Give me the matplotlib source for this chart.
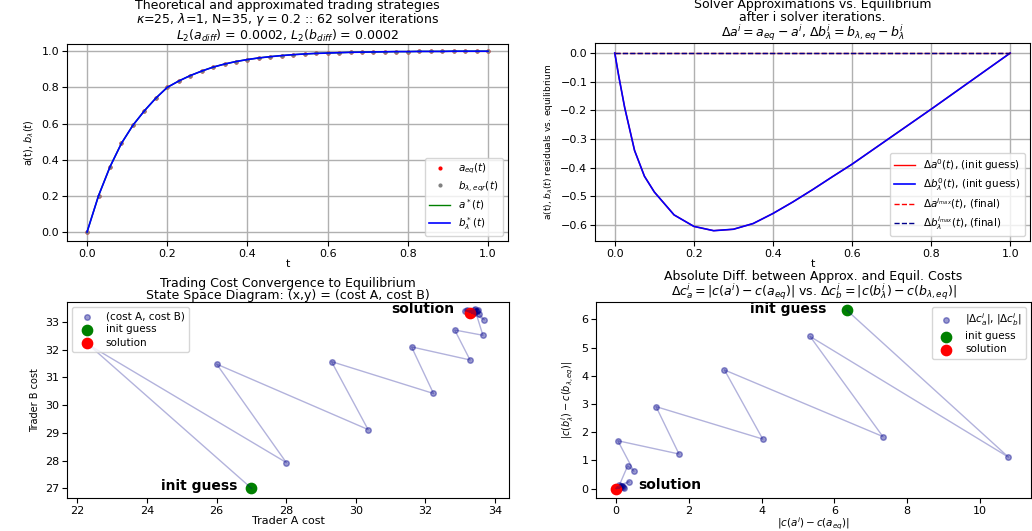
import matplotlib as mpl
mpl.use('Agg')
import matplotlib.pyplot as plt
import numpy as np

# --- top left: equilibrium vs approximated strategies (N=35 grid) ---
t_grid = np.linspace(0, 1, 36)
a_eq = [0.000, 0.200, 0.360, 0.490, 0.590, 0.670, 0.740, 0.800, 0.835, 0.865,
        0.890, 0.912, 0.929, 0.943, 0.954, 0.963, 0.970, 0.976, 0.981, 0.985,
        0.988, 0.990, 0.992, 0.994, 0.995, 0.996, 0.997, 0.998, 0.998, 0.999,
        0.999, 0.999, 1.000, 1.000, 1.000, 1.000]
b_eq = a_eq
a_star = a_eq
b_star = a_eq

# --- top right: residuals of init guess and final iteration ---
t_res = [0.0, 0.01, 0.025, 0.05, 0.075, 0.1, 0.15, 0.2, 0.25, 0.3, 0.35, 0.4,
         0.45, 0.5, 0.55, 0.6, 0.7, 0.8, 0.9, 1.0]
da_init = [0.0, -0.08, -0.19, -0.34, -0.43, -0.485, -0.565, -0.605, -0.62, -0.615,
           -0.595, -0.56, -0.52, -0.477, -0.432, -0.388, -0.292, -0.196, -0.098, 0.0]
db_init = da_init
da_final = [0.0] * len(t_res)
db_final = da_final

# --- bottom left: cost of A, cost of B per solver iteration ---
cost_a = [27.00, 22.33, 28.00, 26.00, 30.35, 29.30, 32.23, 31.60, 33.28, 32.84,
          33.65, 33.42, 33.69, 33.20, 33.55, 33.15, 33.50, 33.25, 33.45, 33.30,
          33.40, 33.28, 33.36, 33.32, 33.34, 33.33, 33.22, 33.48, 33.38, 33.31]
cost_b = [27.00, 32.17, 27.93, 31.48, 29.12, 31.57, 30.42, 32.10, 31.63, 32.71,
          32.52, 33.45, 33.08, 33.42, 33.30, 33.40, 33.44, 33.36, 33.38, 33.40,
          33.34, 33.36, 33.33, 33.35, 33.33, 33.34, 33.41, 33.38, 33.42, 33.37]
sol_a, sol_b = 33.28, 33.32

# --- bottom right: absolute differences to equilibrium costs ---
dc_a = [6.34, 10.78, 5.33, 7.33, 2.98, 4.03, 1.10, 1.73, 0.05, 0.49,
        0.32, 0.09, 0.36, 0.13, 0.22, 0.18, 0.17, 0.08, 0.12, 0.03,
        0.07, 0.05, 0.03, 0.01, 0.02, 0.0]
dc_b = [6.33, 1.12, 5.40, 1.85, 4.21, 1.76, 2.91, 1.23, 1.70, 0.62,
        0.81, 0.12, 0.25, 0.09, 0.03, 0.07, 0.11, 0.02, 0.05, 0.07,
        0.01, 0.03, 0.01, 0.02, 0.0, 0.01]

W, H = 1032, 531
fig = plt.figure(figsize=(W / 100, H / 100), dpi=100)


def rect(x0, y0, x1, y1):
    return [x0 / W, 1 - y1 / H, (x1 - x0) / W, (y1 - y0) / H]


ax1 = fig.add_axes(rect(67, 44, 508, 241))
ax2 = fig.add_axes(rect(595, 43, 1030, 241))
ax3 = fig.add_axes(rect(67, 302, 509, 498))
ax4 = fig.add_axes(rect(596, 302, 1031, 498))

tfs = 9
lfs = 7.5

# top left
ax1.plot(t_grid, a_eq, '.', color='red', ms=4, label=r'$a_{eq}(t)$')
ax1.plot(t_grid, b_eq, '.', color='gray', ms=4, label=r'$b_{\lambda, eqr}(t)$')
ax1.plot(t_grid, a_star, color='green', lw=1, label=r'$a^*(t)$')
ax1.plot(t_grid, b_star, color='blue', lw=1.2, label=r'$b^*_\lambda(t)$')
ax1.set_xlim(-0.05, 1.05)
ax1.set_ylim(-0.05, 1.04)
ax1.grid(True, lw=1)
ax1.set_xlabel('t', fontsize=8, labelpad=0)
ax1.set_ylabel(r'a(t), $b_\lambda(t)$', fontsize=7)
ax1.set_title('Theoretical and approximated trading strategies\n'
              r'$\kappa$=25, $\lambda$=1, N=35, $\gamma$ = 0.2 :: 62 solver iterations' '\n'
              r'$L_2(a_{diff})$ = 0.0002, $L_2(b_{diff})$ = 0.0002',
              fontsize=tfs, linespacing=0.95, pad=1)
ax1.legend(loc='lower right', fontsize=lfs, labelspacing=0.3)

# top right
ax2.plot(t_res, da_init, color='red', lw=1, label=r'$\Delta a^0(t)$, (init guess)')
ax2.plot(t_res, db_init, color='blue', lw=1.2, label=r'$\Delta b^0_\lambda(t)$, (init guess)')
ax2.plot(t_res, da_final, '--', color='red', lw=1, label=r'$\Delta a^{i_{max}}(t)$, (final)')
ax2.plot(t_res, db_final, '--', color='darkblue', lw=1, label=r'$\Delta b^{i_{max}}_\lambda(t)$, (final)')
ax2.set_xlim(-0.05, 1.05)
ax2.set_ylim(-0.656, 0.035)
ax2.grid(True, lw=1)
ax2.set_xlabel('t', fontsize=8, labelpad=0)
ax2.set_ylabel(r'a(t), $b_\lambda(t)$ residuals vs. equilibrium', fontsize=6.5)
ax2.set_title('Solver Approximations vs. Equilibrium\nafter i solver iterations.\n'
              r'$\Delta a^i = a_{eq} - a^i$, $\Delta b^i_\lambda = b_{\lambda, eq} - b^i_\lambda$',
              fontsize=tfs, linespacing=0.95, pad=1)
ax2.legend(loc='lower right', fontsize=lfs, labelspacing=0.3)

# bottom left
ax3.plot(cost_a, cost_b, color='darkblue', alpha=0.3, lw=1)
ax3.scatter(cost_a, cost_b, color='darkblue', alpha=0.4, s=16, label='(cost A, cost B)')
ax3.scatter([cost_a[0]], [cost_b[0]], color='green', s=55, label='init guess')
ax3.scatter([sol_a], [sol_b], color='red', s=55, label='solution')
ax3.text(cost_a[0] - 0.4, cost_b[0] + 0.1, 'init guess', fontsize=10, fontweight='bold',
         ha='right', va='center')
ax3.text(sol_a - 0.45, sol_b + 0.13, 'solution', fontsize=10, fontweight='bold',
         ha='right', va='center')
ax3.set_xlim(21.7, 34.4)
ax3.set_ylim(26.65, 33.72)
ax3.set_xticks(range(22, 35, 2))
ax3.set_xlabel('Trader A cost', fontsize=8, labelpad=0)
ax3.set_ylabel('Trader B cost', fontsize=7)
ax3.set_title('Trading Cost Convergence to Equilibrium\n'
              'State Space Diagram: (x,y) = (cost A, cost B)',
              fontsize=tfs, linespacing=0.95, pad=2)
ax3.legend(loc='upper left', fontsize=lfs, labelspacing=0.3)

# bottom right
ax4.plot(dc_a, dc_b, color='darkblue', alpha=0.3, lw=1)
ax4.scatter(dc_a, dc_b, color='darkblue', alpha=0.4, s=16, label=r'$|\Delta c^i_a|$, $|\Delta c^i_b|$')
ax4.scatter([dc_a[0]], [dc_b[0]], color='green', s=55, label='init guess')
ax4.scatter([0], [0], color='red', s=55, label='solution')
ax4.text(dc_a[0] - 0.55, dc_b[0] + 0.04, 'init guess', fontsize=10, fontweight='bold',
         ha='right', va='center')
ax4.text(0.6, 0.12, 'solution', fontsize=10, fontweight='bold',
         ha='left', va='center')
ax4.set_xlim(-0.55, 11.4)
ax4.set_ylim(-0.33, 6.62)
ax4.set_xlabel(r'$|c(a^i) - c(a_{eq})|$', fontsize=7.5, labelpad=0)
ax4.set_ylabel(r'$|c(b^i_\lambda) - c(b_{\lambda, eq})|$', fontsize=7)
ax4.set_title('Absolute Diff. between Approx. and Equil. Costs\n'
              r'$\Delta c^i_a = |c(a^i) - c(a_{eq})|$ vs. $\Delta c^i_b = |c(b^i_\lambda) - c(b_{\lambda, eq})|$',
              fontsize=tfs, linespacing=0.95, pad=3)
ax4.legend(loc='upper right', fontsize=lfs, labelspacing=0.3)

for ax in (ax1, ax2, ax3, ax4):
    ax.tick_params(labelsize=8, pad=2)

fig.savefig('out.png', dpi=100)
